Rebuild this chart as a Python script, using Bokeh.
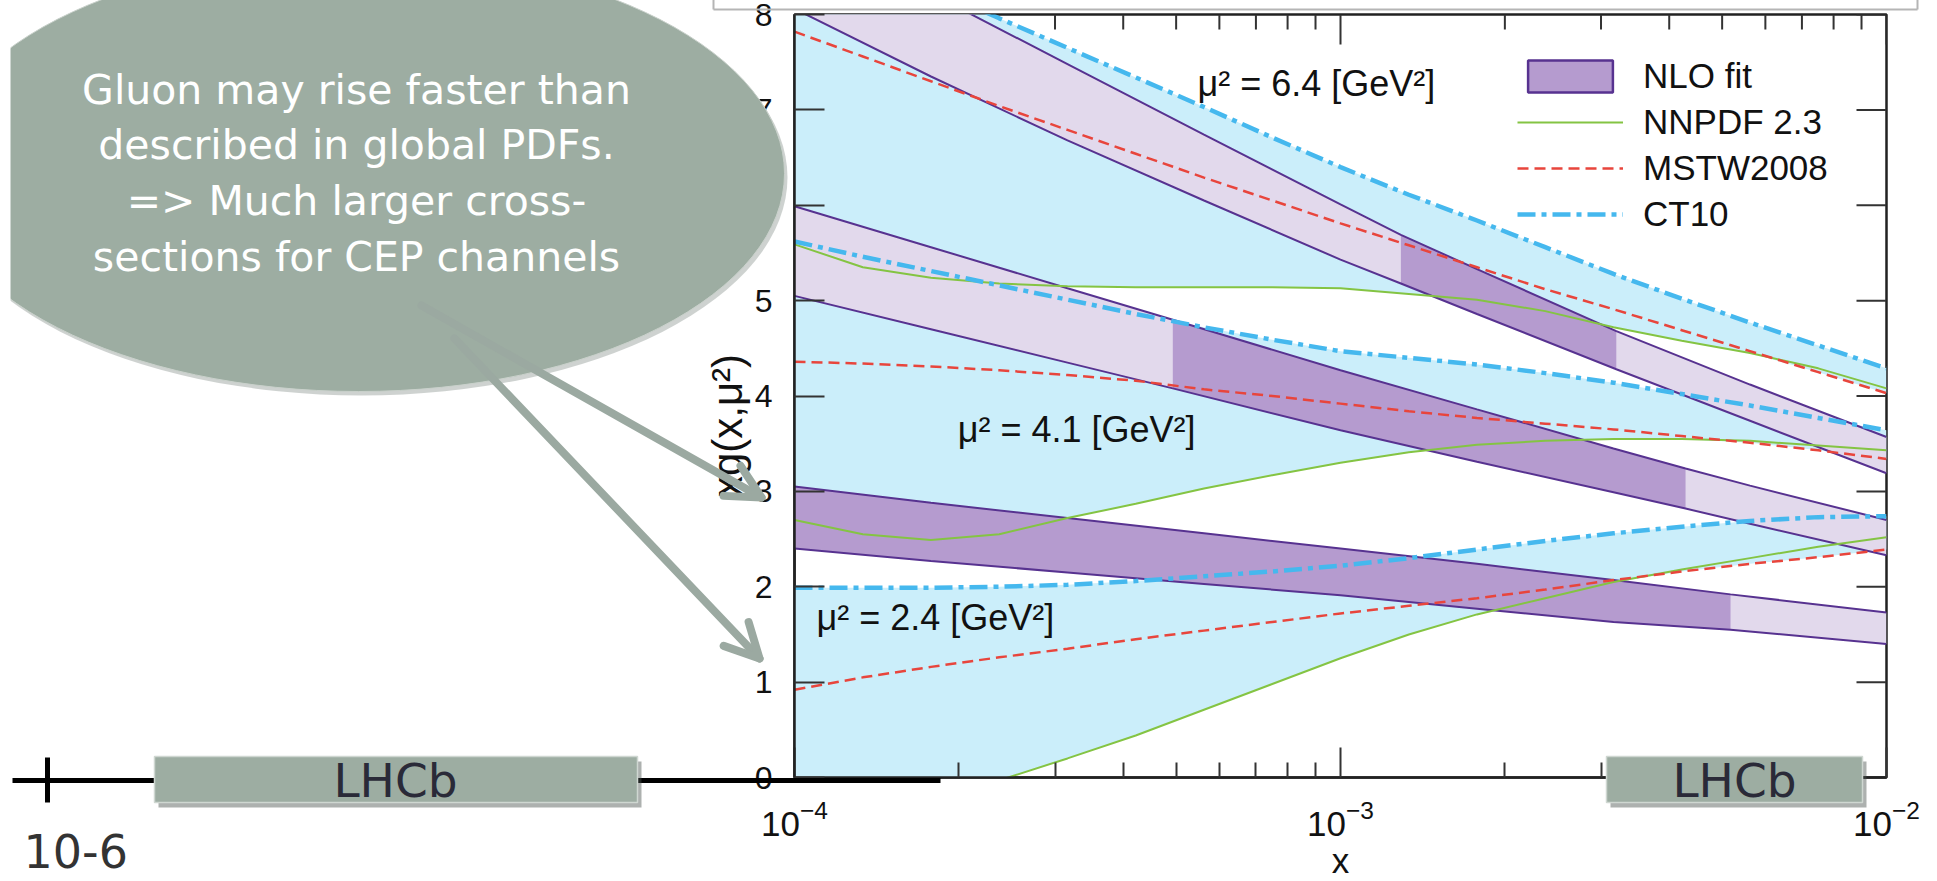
import numpy as np
from bokeh.plotting import figure
from bokeh.models import (Range1d, LinearScale, FixedTicker, LogTickFormatter,
                          Legend, LegendItem)
from bokeh.core.properties import value
from bokeh.embed import file_html
from bokeh.resources import INLINE

# ---------------- data ----------------
x_grid = [1.0e-4, 1.334e-4, 1.778e-4, 2.371e-4, 3.162e-4, 4.217e-4, 5.623e-4, 7.499e-4,
          1.0e-3, 1.334e-3, 1.778e-3, 2.371e-3, 3.162e-3, 4.217e-3, 5.623e-3, 7.499e-3, 1.0e-2]

nnpdf_24 = [-0.70, -0.45, -0.23, -0.03, 0.20, 0.44, 0.71, 0.98, 1.25, 1.50, 1.71, 1.88, 2.05, 2.18, 2.30, 2.42, 2.52]
mstw_24 = [0.92, 1.05, 1.16, 1.26, 1.35, 1.45, 1.54, 1.63, 1.72, 1.80, 1.88, 1.97, 2.07, 2.16, 2.24, 2.31, 2.39]
ct10_24 = [1.99, 1.99, 1.99, 2.00, 2.02, 2.06, 2.11, 2.16, 2.22, 2.30, 2.39, 2.48, 2.56, 2.63, 2.69, 2.73, 2.74]

nnpdf_41 = [2.70, 2.55, 2.49, 2.55, 2.72, 2.87, 3.03, 3.17, 3.30, 3.41, 3.49, 3.53, 3.55, 3.55, 3.53, 3.48, 3.43]
mstw_41 = [4.36, 4.34, 4.31, 4.27, 4.22, 4.16, 4.07, 4.00, 3.92, 3.84, 3.77, 3.71, 3.65, 3.58, 3.51, 3.43, 3.34]
ct10_41 = [5.62, 5.46, 5.31, 5.16, 5.01, 4.86, 4.72, 4.59, 4.47, 4.40, 4.33, 4.24, 4.14, 4.02, 3.90, 3.77, 3.64]

nnpdf_64 = [5.59, 5.35, 5.24, 5.18, 5.15, 5.14, 5.14, 5.14, 5.13, 5.07, 5.01, 4.89, 4.72, 4.58, 4.45, 4.29, 4.08]
mstw_64 = [7.82, 7.56, 7.30, 7.04, 6.79, 6.54, 6.29, 6.05, 5.81, 5.58, 5.35, 5.12, 4.91, 4.69, 4.47, 4.25, 4.03]
ct10_64 = [8.94, 8.60, 8.28, 7.96, 7.65, 7.34, 7.03, 6.71, 6.40, 6.11, 5.84, 5.56, 5.28, 5.02, 4.77, 4.53, 4.29]

# NLO fit bands (upper / lower edges) and x-range where the fit is constrained (dark)
band64_x = [1.0e-4, 1.778e-4, 3.162e-4, 5.623e-4, 1.0e-3, 1.29e-3, 1.778e-3, 3.2e-3, 5.623e-3, 1.0e-2]
band64_hi = [9.00, 8.22, 7.48, 6.74, 6.01, 5.69, 5.33, 4.68, 4.12, 3.57]
band64_lo = [8.06, 7.35, 6.68, 6.05, 5.43, 5.18, 4.86, 4.28, 3.74, 3.19]
band64_fit = (1.29e-3, 3.2e-3)

band41_x = [1.0e-4, 1.778e-4, 3.162e-4, 4.93e-4, 1.0e-3, 1.778e-3, 3.162e-3, 4.285e-3, 5.623e-3, 1.0e-2]
band41_hi = [5.99, 5.56, 5.13, 4.80, 4.27, 3.86, 3.45, 3.24, 3.06, 2.70]
band41_lo = [5.05, 4.70, 4.35, 4.08, 3.64, 3.31, 2.99, 2.82, 2.66, 2.33]
band41_fit = (4.93e-4, 4.285e-3)

band24_x = [1.0e-4, 1.778e-4, 3.162e-4, 5.623e-4, 1.0e-3, 1.778e-3, 3.162e-3, 5.18e-3, 1.0e-2]
band24_hi = [3.05, 2.88, 2.72, 2.56, 2.40, 2.24, 2.07, 1.92, 1.73]
band24_lo = [2.40, 2.27, 2.15, 2.03, 1.91, 1.77, 1.63, 1.55, 1.40]
band24_fit = (1.0e-4, 5.18e-3)

scale_labels = ["\u03bc\u00b2 = 6.4 [GeV\u00b2]", "\u03bc\u00b2 = 4.1 [GeV\u00b2]", "\u03bc\u00b2 = 2.4 [GeV\u00b2]"]
scale_label_x = [5.47e-4, 1.99e-4, 1.097e-4]
scale_label_y = [7.28, 3.65, 1.68]

legend_labels = ["NLO fit", "NNPDF 2.3", "MSTW2008", "CT10"]
y_ticks = [0, 1, 2, 3, 4, 5, 6, 7, 8]
x_major_ticks = [1e-4, 1e-3, 1e-2]
x_minor_ticks = [2e-4, 3e-4, 4e-4, 5e-4, 6e-4, 7e-4, 8e-4, 9e-4,
                 2e-3, 3e-3, 4e-3, 5e-3, 6e-3, 7e-3, 8e-3, 9e-3]

callout_lines = ["Gluon may rise faster than", "described in global PDFs.",
                 "=> Much larger cross-", "sections for CEP channels"]

# ---------------- style ----------------
CYAN = "#cbeefa"
PURPLE_LIGHT = "#e2d9ec"
PURPLE_DARK = "#b59bcf"
PURPLE_EDGE = "#573290"
GREEN = "#84c443"
RED = "#e8453c"
BLUE = "#45b8ee"
SLIDE = "#9dada2"
ARROW = "#9ba9a1"
AXIS = "#222222"
PLOT_FONT = "Liberation Sans"
SLIDE_FONT = "DejaVu Sans"

p = figure(width=1937, height=881, x_axis_type="log",
           x_range=Range1d(1e-4, 1e-2), y_range=Range1d(0, 8),
           output_backend="svg", toolbar_location=None,
           min_border_left=794, min_border_right=51, min_border_top=14, min_border_bottom=104)
p.background_fill_color = "white"
p.border_fill_color = "white"
p.outline_line_color = AXIS
p.outline_line_width = 2.5
p.grid.visible = False

# pixel helper ranges for slide decorations (1 unit = 1 canvas pixel)
p.extra_x_ranges = {"px": Range1d(794, 1886)}
p.extra_y_ranges = {"py": Range1d(777, 14)}
p.extra_x_scales = {"px": LinearScale()}
p.extra_y_scales = {"py": LinearScale()}

# axes
xa = p.xaxis[0]
ya = p.yaxis[0]
for ax in (xa, ya):
    ax.major_tick_in = 30
    ax.major_tick_out = 0
    ax.minor_tick_in = 15
    ax.minor_tick_out = 0
    ax.axis_line_width = 2.5
    ax.axis_line_color = AXIS
    ax.major_tick_line_width = 2
    ax.minor_tick_line_width = 2
    ax.major_tick_line_color = "#333333"
    ax.minor_tick_line_color = "#333333"
    ax.major_label_text_font = PLOT_FONT
    ax.major_label_text_color = "#111111"
    ax.major_label_standoff = 22
xa.major_label_text_font_size = "35px"
ya.major_label_text_font_size = "32px"
xa.ticker = FixedTicker(ticks=x_major_ticks, minor_ticks=x_minor_ticks)
xa.formatter = LogTickFormatter()
ya.ticker = FixedTicker(ticks=y_ticks)
ya.minor_tick_line_color = None

# mirrored ticks on the top and right frame edges
p.segment(x0=x_major_ticks, x1=x_major_ticks, y0=[14] * 3, y1=[44] * 3,
          line_color="#333333", line_width=2, y_range_name="py")
p.segment(x0=x_minor_ticks, x1=x_minor_ticks, y0=[14] * len(x_minor_ticks),
          y1=[29] * len(x_minor_ticks), line_color="#333333", line_width=2, y_range_name="py")
p.segment(x0=[1886] * len(y_ticks), x1=[1856] * len(y_ticks), y0=y_ticks, y1=y_ticks,
          line_color="#333333", line_width=2, x_range_name="px")

xg = np.array(x_grid)
groups = [(nnpdf_24, mstw_24, ct10_24), (nnpdf_41, mstw_41, ct10_41), (nnpdf_64, mstw_64, ct10_64)]

# global-PDF spread (cyan)
for nn, ms, ct in groups:
    arr = np.array([nn, ms, ct])
    p.varea(x=xg, y1=arr.min(axis=0), y2=arr.max(axis=0), fill_color=CYAN)

bands = [(band64_x, band64_hi, band64_lo, band64_fit),
         (band41_x, band41_hi, band41_lo, band41_fit),
         (band24_x, band24_hi, band24_lo, band24_fit)]
for bx, bh, bl, (f0, f1) in bands:
    bx = np.array(bx); bh = np.array(bh); bl = np.array(bl)
    p.varea(x=bx, y1=bl, y2=bh, fill_color=PURPLE_LIGHT)
    m = (bx >= f0 * 0.999) & (bx <= f1 * 1.001)
    p.varea(x=bx[m], y1=bl[m], y2=bh[m], fill_color=PURPLE_DARK)
for bx, bh, bl, _ in bands:
    p.line(bx, bh, line_color=PURPLE_EDGE, line_width=2)
    p.line(bx, bl, line_color=PURPLE_EDGE, line_width=2)

r_nn = r_ms = r_ct = None
for nn, ms, ct in groups:
    r_nn = p.line(xg, nn, line_color=GREEN, line_width=2)
for nn, ms, ct in groups:
    r_ms = p.line(xg, ms, line_color=RED, line_width=2.5, line_dash="11 6")
for nn, ms, ct in groups:
    r_ct = p.line(xg, ct, line_color=BLUE, line_width=4.5, line_dash="18 6 5 6")

# zero-size quad that only serves as the legend swatch of the NLO fit band
r_box = p.quad(left=[1e-4], right=[1e-4], top=[0], bottom=[0], fill_color=PURPLE_DARK,
               line_color=PURPLE_EDGE, line_width=2.5)

for t, lx, ly in zip(scale_labels, scale_label_x, scale_label_y):
    p.text(x=[lx], y=[ly], text=[t], text_font=value(PLOT_FONT), text_font_size="36px",
           text_color="#111111", text_baseline="middle", text_align="left")

legend = Legend(items=[LegendItem(label=legend_labels[0], renderers=[r_box]),
                       LegendItem(label=legend_labels[1], renderers=[r_nn]),
                       LegendItem(label=legend_labels[2], renderers=[r_ms]),
                       LegendItem(label=legend_labels[3], renderers=[r_ct])],
                location=(723, 543), orientation="vertical",
                background_fill_alpha=0, border_line_color=None,
                padding=0, margin=0, spacing=6, glyph_width=106, glyph_height=40,
                label_height=40, label_standoff=20,
                label_text_font=PLOT_FONT, label_text_font_size="35px",
                label_text_color="#111111")
p.add_layout(legend)

PX = dict(x_range_name="px", y_range_name="py")

# axis titles
p.text(x=[727], y=[425], text=["xg(x,\u03bc\u00b2)"], angle=np.pi / 2, text_align="center",
       text_baseline="middle", text_font=value(PLOT_FONT), text_font_size="42px",
       text_color="#111111", level="annotation", **PX)
p.text(x=[1340], y=[860], text=["x"], text_align="center", text_baseline="middle",
       text_font=value(PLOT_FONT), text_font_size="35px", text_color="#111111",
       level="overlay", **PX)

# slide decorations
p.segment(x0=[713, 713, 1917], y0=[9, -5, -5], x1=[1917, 713, 1917], y1=[9, 9, 9],
          line_color="#b5b5b5", line_width=2, level="overlay", **PX)

p.ellipse(x=[361], y=[177], width=[852], height=[436], fill_color="#5d6962", fill_alpha=0.3,
          line_color=None, level="overlay", **PX)
p.ellipse(x=[358], y=[173], width=[852], height=[436], fill_color=SLIDE,
          line_color="#c9d1cb", line_width=1, level="overlay", **PX)
p.quad(left=[-200], right=[10], top=[-20], bottom=[420], fill_color="white",
       line_color=None, level="overlay", **PX)

# callout arrows (shaft + open V head, in canvas pixels)
arrows = [(421, 305, 761, 497), (454, 338, 759, 658)]
head_len, head_half_angle = 38, np.radians(27)
head_xs, head_ys = [], []
for (xs, ys, xe, ye) in arrows:
    p.segment(x0=[xs], y0=[ys], x1=[xe], y1=[ye], line_color=ARROW, line_width=8,
              line_cap="round", level="overlay", **PX)
    ang = np.arctan2(ys - ye, xs - xe)
    a1, a2 = ang + head_half_angle, ang - head_half_angle
    head_xs.append([xe + head_len * np.cos(a1), xe, xe + head_len * np.cos(a2)])
    head_ys.append([ye + head_len * np.sin(a1), ye, ye + head_len * np.sin(a2)])
p.multi_line(xs=head_xs, ys=head_ys, line_color=ARROW, line_width=8, line_join="round",
             line_cap="round", level="overlay", **PX)

for i, line in enumerate(callout_lines):
    p.text(x=[356], y=[89 + 55.7 * i], text=[line], text_align="center",
           text_baseline="middle", text_font=value(SLIDE_FONT), text_font_size="41px",
           text_color="white", level="overlay", **PX)

p.segment(x0=[12, 47], y0=[780, 757], x1=[940, 47], y1=[780, 802], line_color="black",
          line_width=5, level="overlay", **PX)

for (l, r, cx) in [(154, 637, 395), (1606, 1862, 1734)]:
    p.quad(left=[l + 4], right=[r + 4], top=[761], bottom=[807], fill_color="#4a524d",
           fill_alpha=0.45, line_color=None, level="overlay", **PX)
    p.quad(left=[l], right=[r], top=[756], bottom=[802], fill_color=SLIDE,
           line_color="#cfd7d1", line_width=1.5, level="overlay", **PX)
    p.text(x=[cx], y=[780], text=["LHCb"], text_align="center", text_baseline="middle",
           text_font=value(SLIDE_FONT), text_font_size="47px", text_color="#2a2a38",
           level="overlay", **PX)

p.text(x=[23], y=[850], text=["10-6"], text_align="left", text_baseline="middle",
       text_font=value(SLIDE_FONT), text_font_size="46px", text_color="#333333",
       level="overlay", **PX)

open("out.html", "w").write(file_html(p, INLINE))
